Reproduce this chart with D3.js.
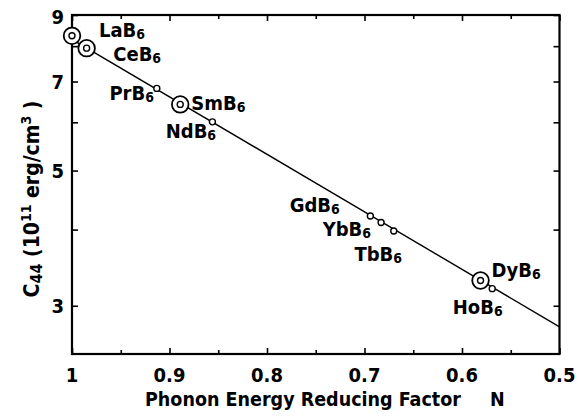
<!DOCTYPE html>
<html><head><meta charset="utf-8">
<script src="https://cdn.jsdelivr.net/npm/d3@7"></script>
<style>
body{margin:0;background:#fff}
text{font-family:"Liberation Sans Narrow","DejaVu Sans Condensed","Arial Narrow",sans-serif;font-weight:bold;fill:#000}
</style>
</head><body><svg id="c" width="585" height="420"></svg>
<script>
const compounds = ["LaB6","CeB6","PrB6","SmB6","NdB6","GdB6","YbB6","TbB6","DyB6","HoB6"];
const reducingFactor = [1.0,0.985,0.913,0.889,0.856,0.694,0.683,0.670,0.581,0.569];
const c44 = [8.32,7.94,6.82,6.42,6.01,4.21,4.11,3.98,3.30,3.20];
const isLarge = [true,true,false,true,false,false,false,false,true,false];
const fitX = [1.0,0.5];
const fitY = [8.21,2.77];
const xMajorTicks = [1,0.9,0.8,0.7,0.6,0.5];
const xMinorTicks = [0.95,0.85,0.75,0.65,0.55];
const yTicks = [3,4,5,6,7,8,9];
const yTickLabels = [3,5,7,9];

// layout (label offsets in px relative to point)
const labelOffsets = {
  LaB6:[27,1.6], CeB6:[26.6,12.5], PrB6:[-47.4,11.7], SmB6:[11,5.7], NdB6:[-46.7,16],
  GdB6:[-80.7,-4.5], YbB6:[-58.4,13.5], TbB6:[-39.3,29.8], DyB6:[11,-3.3], HoB6:[-39.4,25]
};

const svg = d3.select("#c");
const L=72, R=559.5, T=15, B=354;
const x = d3.scaleLinear().domain([1,0.5]).range([L,R]);
const y = d3.scaleLog().domain([2.5,9]).range([B,T]);

// axes ticks (inward)
const gB = svg.append("g").attr("transform",`translate(0,${B})`);
gB.call(d3.axisBottom(x).tickValues(xMajorTicks).tickSize(-6).tickFormat(""));
gB.append("g").call(d3.axisBottom(x).tickValues(xMinorTicks).tickSize(-4).tickFormat(""));
const gT = svg.append("g").attr("transform",`translate(0,${T})`);
gT.call(d3.axisTop(x).tickValues(xMajorTicks).tickSize(-6).tickFormat(""));
gT.append("g").call(d3.axisTop(x).tickValues(xMinorTicks).tickSize(-4).tickFormat(""));
const gL = svg.append("g").attr("transform",`translate(${L},0)`);
gL.call(d3.axisLeft(y).tickValues(yTicks).tickSize(-6).tickFormat(""));
const gR = svg.append("g").attr("transform",`translate(${R},0)`);
gR.call(d3.axisRight(y).tickValues(yTicks).tickSize(-6).tickFormat(""));
svg.selectAll(".domain").remove();
svg.selectAll(".tick line").attr("stroke","#000").attr("stroke-width",1.6);

svg.append("rect").attr("x",L).attr("y",T).attr("width",R-L).attr("height",B-T)
  .attr("fill","none").attr("stroke","#000").attr("stroke-width",2.2);

// tick labels
svg.selectAll(".xl").data(xMajorTicks).enter().append("text")
  .attr("x",d=>x(d)).attr("y",382).attr("text-anchor","middle").attr("font-size",20)
  .text(d=>d===1?"1":d3.format(".1f")(d));
svg.selectAll(".yl").data(yTickLabels).enter().append("text")
  .attr("x",64).attr("y",d=>y(d)+ (d===9?9:7.5)).attr("text-anchor","end").attr("font-size",20)
  .text(d=>d);

// axis titles
svg.append("text").attr("x",145).attr("y",406).attr("font-size",19.5).text("Phonon Energy Reducing Factor");
svg.append("text").attr("x",490).attr("y",406).attr("font-size",19.5).text("N");

const yt = svg.append("text").attr("transform","translate(39,199) rotate(-90)")
  .attr("text-anchor","middle").attr("font-size",21);
yt.append("tspan").text("C");
yt.append("tspan").attr("font-size",16).attr("dy",3).text("44");
yt.append("tspan").attr("dy",-3).text(" (10");
yt.append("tspan").attr("font-size",14).attr("dy",-8).text("11");
yt.append("tspan").attr("dy",8).text(" erg/cm");
yt.append("tspan").attr("font-size",14).attr("dy",-8).text("3");
yt.append("tspan").attr("dy",8).text(" )");

// fit line
svg.append("path").datum(d3.zip(fitX,fitY))
  .attr("d",d3.line().x(d=>x(d[0])).y(d=>y(d[1])))
  .attr("fill","none").attr("stroke","#000").attr("stroke-width",1.4);

// points
const pts = compounds.map((c,i)=>({c, xv:reducingFactor[i], yv:c44[i], big:isLarge[i]}));
const gp = svg.append("g");
pts.forEach(p=>{
  const cx=x(p.xv), cy=y(p.yv);
  if(p.big){
    gp.append("circle").attr("cx",cx).attr("cy",cy).attr("r",8.3).attr("fill","#fff").attr("stroke","#000").attr("stroke-width",1.8);
  }
  gp.append("circle").attr("cx",cx).attr("cy",cy).attr("r",3).attr("fill","#fff").attr("stroke","#000").attr("stroke-width",1.4);
  const off = labelOffsets[p.c];
  const t = svg.append("text").attr("x",cx+off[0]).attr("y",cy+off[1]).attr("font-size",20);
  t.append("tspan").text(p.c.slice(0,-1));
  t.append("tspan").attr("font-size",14).attr("dy",2).text(p.c.slice(-1));
});
</script>
</body></html>
